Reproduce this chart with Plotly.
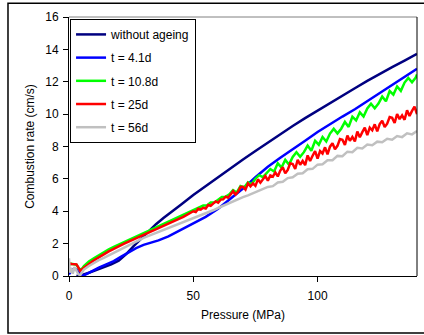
import plotly.graph_objects as go

# ---- data ----
series_names = ["without ageing", "t = 4.1d", "t = 10.8d", "t = 25d", "t = 56d"]
series_colors = ["#000080", "#0000FF", "#00FF00", "#FF0000", "#C0C0C0"]

x_ref = [3, 5, 8, 11, 14, 17, 20, 23, 26, 29, 32, 35, 38, 41, 45, 50, 55, 60, 65, 70,
         75, 80, 85, 90, 95, 100, 105, 110, 115, 120, 125, 130, 135, 140]
y_ref = [0.0, 0.05, 0.2, 0.38, 0.55, 0.72, 0.95, 1.35, 1.85, 2.3, 2.78, 3.2, 3.58, 3.92,
         4.4, 5.0, 5.55, 6.15, 6.7, 7.2, 7.72, 8.25, 8.75, 9.27, 9.75, 10.22, 10.7, 11.15,
         11.6, 12.05, 12.5, 12.9, 13.3, 13.72]

x_41 = [0, 1, 2, 3, 4, 5, 5.5, 7, 9, 12, 15, 18, 21, 24, 27, 30, 33, 36, 40, 45, 50, 55,
        60, 65, 70, 75, 80, 85, 90, 95, 100, 105, 110, 115, 120, 125, 130, 135, 140]
y_41 = [0.1, 0.35, 0.45, 0.4, 0.2, 0.05, 0.0, 0.12, 0.3, 0.52, 0.72, 0.92, 1.2, 1.48, 1.72,
        1.92, 2.05, 2.2, 2.45, 2.85, 3.25, 3.65, 4.15, 4.75, 5.4, 6.1, 6.75, 7.3, 7.8, 8.35,
        8.9, 9.4, 9.85, 10.3, 10.8, 11.3, 11.8, 12.3, 12.8]

x_108 = [0, 1, 2, 3, 4, 5, 6, 8, 10, 12, 14, 16, 18, 20, 22, 24, 26, 28, 30, 32, 34, 36, 38,
         40, 42, 44, 46, 48, 50, 52,
         54, 55.5, 57, 58.5, 60, 61.5, 63, 64.5, 66, 67.5, 69, 70.5, 72, 73.5, 75, 76.5,
         78, 79.5, 81, 82.5, 84, 85.5, 87, 88.5, 90, 91.5, 93, 94.5, 96, 97.5, 99, 100.5,
         102, 103.5, 105, 106.5, 108, 109.5, 111, 112.5, 114, 115.5, 117, 118.5, 120, 121.5,
         123, 124.5, 126, 127.5, 129, 130.5, 132, 133.5, 135, 136.5, 138, 139.5, 140]
y_108 = [0.7, 0.75, 0.72, 0.7, 0.45, 0.4, 0.62, 0.9, 1.1, 1.3, 1.48, 1.65, 1.8, 1.95, 2.08,
         2.22, 2.35, 2.5, 2.65, 2.78, 2.92, 3.06, 3.2, 3.35, 3.48, 3.62, 3.75, 3.9, 4.03, 4.16,
         4.35, 4.35, 4.54, 4.54, 4.72, 4.88, 4.89, 5.05, 5.31, 5.16, 5.56, 5.47, 5.79, 5.68,
         6.01, 6.23, 6.11, 6.33, 6.61, 6.46, 6.96, 6.70, 7.17, 6.88, 7.35, 7.64, 7.36, 7.65,
         8.06, 7.74, 8.35, 8.11, 8.59, 8.31, 8.80, 9.09, 8.81, 9.10, 9.52, 9.21, 9.84, 9.61,
         10.11, 9.85, 10.35, 10.64, 10.36, 10.65, 11.08, 10.79, 11.43, 11.21, 11.71, 11.44,
         11.95, 12.24, 11.97, 12.26, 12.45]

x_25 = [0, 0.5, 1, 2, 3, 3.5, 4, 4.5, 5, 6, 8, 10, 12, 14, 16, 18, 20, 22, 24, 26, 28, 30,
        32, 34, 36, 38, 40, 42, 44, 46, 48,
        50, 51, 52, 53, 54, 55, 56, 57, 58, 59, 60, 61, 62, 63, 64, 65, 66, 67, 68, 69,
        70, 71, 72, 73, 74, 75, 76, 77, 78, 79, 80, 81, 82, 83, 84, 85, 86, 87, 88, 89,
        90, 91, 92, 93, 94, 95, 96, 97, 98, 99, 100, 101, 102, 103, 104, 105, 106, 107,
        108, 109, 110, 111, 112, 113, 114, 115, 116, 117, 118, 119, 120, 121, 122, 123,
        124, 125, 126, 127, 128, 129, 130, 131, 132, 133, 134, 135, 136, 137, 138, 139, 140]
y_25 = [0.72, 0.76, 0.74, 0.75, 0.72, 0.6, 0.4, 0.32, 0.38, 0.5, 0.75, 0.97, 1.15, 1.35,
        1.52, 1.68, 1.85, 1.98, 2.12, 2.25, 2.4, 2.55, 2.68, 2.82, 2.97, 3.1, 3.25, 3.38,
        3.52, 3.65, 3.8,
        4.00, 3.95, 4.15, 4.10, 4.21, 4.17, 4.39, 4.34, 4.48, 4.61, 4.53, 4.72, 4.74, 4.90,
        4.84, 5.07, 5.24, 5.03, 5.20, 5.50, 5.51, 5.33, 5.72, 5.54, 5.72, 5.57, 5.97, 5.76,
        5.98, 6.17, 5.89, 6.21, 6.14, 6.40, 6.15, 6.51, 6.72, 6.34, 6.55, 6.96, 6.92, 6.61,
        7.18, 6.87, 7.11, 6.85, 7.45, 7.11, 7.43, 7.71, 7.25, 7.72, 7.57, 7.95, 7.52, 7.99,
        8.20, 7.83, 8.04, 8.46, 8.42, 8.10, 8.67, 8.35, 8.59, 8.32, 8.92, 8.57, 8.89, 9.16,
        8.70, 9.16, 9.00, 9.37, 8.93, 9.39, 9.59, 9.21, 9.41, 9.82, 9.77, 9.45, 10.01, 9.69,
        9.92, 9.65, 10.24, 9.89, 10.20, 10.47, 10.00]

x_56 = [0, 0.3, 0.8, 1.5, 2.2, 3, 3.8, 4.5, 5.2, 6, 8, 10, 12, 14, 16, 18, 20, 22, 24, 26, 28,
        30, 32, 34, 36, 38, 40, 42, 44, 46, 48, 50, 52, 54, 56, 58, 60, 62, 64, 66, 68, 70,
        72, 74, 76, 78, 80, 82, 84, 86, 88, 90, 92, 94, 96, 98, 100, 102, 104, 106, 108, 110,
        112, 114, 116, 118, 120, 122, 124, 126, 128, 130, 132, 134, 136, 138, 140]
y_56 = [1.1, 0.2, 0.5, 0.15, 0.55, 0.3, 0.1, 0.05, 0.2, 0.4, 0.62, 0.82, 0.98, 1.12, 1.28,
        1.45, 1.6, 1.76, 1.92, 2.05, 2.2, 2.35, 2.47, 2.6, 2.72, 2.84, 2.95, 3.08, 3.2, 3.3,
        3.43, 3.55, 3.68, 3.8, 3.93, 4.06, 4.2, 4.34, 4.48, 4.62, 4.73, 4.87, 4.98, 5.12, 5.22,
        5.36, 5.5, 5.55, 5.78, 5.82, 6.05, 6.1, 6.32, 6.35, 6.6, 6.62, 6.88, 6.9, 7.15, 7.15,
        7.42, 7.4, 7.68, 7.65, 7.92, 7.88, 8.12, 8.08, 8.3, 8.26, 8.48, 8.42, 8.65, 8.58, 8.82,
        8.75, 8.95]

x_tick_vals = [0, 50, 100]
y_tick_vals = [0, 2, 4, 6, 8, 10, 12, 14, 16]

xs = [x_ref, x_41, x_108, x_25, x_56]
ys = [y_ref, y_41, y_108, y_25, y_56]

FONT = "Liberation Sans, Arial, sans-serif"
TXT = dict(family=FONT, size=12, color="#000000")

fig = go.Figure()
for name, color, xv, yv in zip(series_names, series_colors, xs, ys):
    fig.add_trace(go.Scatter(x=xv, y=yv, mode="lines", name=name, legendgroup=name,
                             line=dict(color=color, width=2.5)))

fig.update_layout(
    width=424, height=335,
    margin=dict(l=69, r=7, t=17, b=59),
    paper_bgcolor="white", plot_bgcolor="white",
    font=TXT,
    showlegend=True,
    legend=dict(x=0.003, y=0.9926, xanchor="left", yanchor="top",
                bgcolor="white", bordercolor="black", borderwidth=1,
                font=TXT, tracegroupgap=4.2, traceorder="grouped"),
    xaxis=dict(range=[0, 140], tickmode="array", tickvals=x_tick_vals,
               showgrid=False, zeroline=False, showline=True, linecolor="black",
               linewidth=1, ticks="outside", ticklen=5, tickcolor="black",
               ticklabelstandoff=4, tickfont=TXT,
               title=dict(text="Pressure (MPa)", standoff=8, font=TXT)),
    yaxis=dict(range=[0, 16], tickmode="array", tickvals=y_tick_vals,
               showgrid=False, zeroline=False, showline=True, linecolor="black",
               linewidth=1, ticks="outside", ticklen=5, tickcolor="black",
               ticklabelstandoff=2, tickfont=TXT,
               title=dict(text="Combustion rate (cm/s)", standoff=8, font=TXT)),
    shapes=[
        dict(type="line", xref="paper", yref="paper", x0=0, x1=1, y0=1, y1=1,
             line=dict(color="#808080", width=1)),
        dict(type="line", xref="paper", yref="paper", x0=1, x1=1, y0=0, y1=1,
             line=dict(color="black", width=1)),
        dict(type="rect", xref="paper", yref="paper", x0=-0.1753, x1=1.03,
             y0=-0.2198, y1=1.0528, line=dict(color="black", width=1.5),
             fillcolor="rgba(0,0,0,0)", layer="below"),
    ],
)

fig.write_html("out.html")
